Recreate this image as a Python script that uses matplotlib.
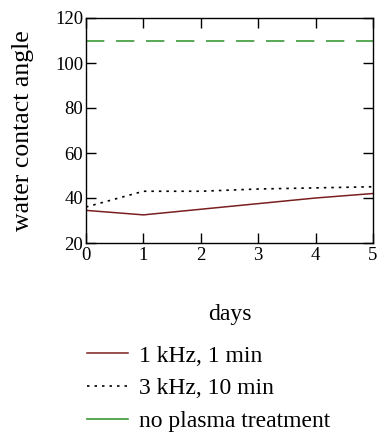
import matplotlib
matplotlib.use('Agg')
import matplotlib.pyplot as plt
from matplotlib.lines import Line2D

# data
days = [0, 1, 2, 3, 4, 5]
khz1_1min = [34.5, 32.5, 35, 37.5, 40, 42]
khz3_10min = [36, 43, 43, 44, 44.5, 45]
no_plasma = [110, 110, 110, 110, 110, 110]
labels = ['1 kHz, 1 min', '3 kHz, 10 min', 'no plasma treatment']

plt.rcParams['font.family'] = ['Liberation Serif', 'DejaVu Serif']

fig = plt.figure(figsize=(3.79, 4.33), dpi=100)
ax = fig.add_axes([86 / 379, 1 - 243 / 433, 287 / 379, 225 / 433])

red = '#7a1f1f'
green = '#3a9a3a'
ax.plot(days, khz1_1min, color=red, lw=1.1)
ax.plot(days, khz3_10min, color='black', lw=1.2, ls=(0, (1.5, 3)))
ax.plot(days, no_plasma, color=green, lw=1.2, ls=(0, (11, 7)))

ax.set_xlim(0, 5)
ax.set_ylim(20, 120)
ax.set_xticks(range(6))
ax.set_yticks(range(20, 121, 20))
ax.tick_params(direction='in', top=True, right=True, length=7, width=1,
               labelsize=13.5, pad=2)
ax.tick_params(axis='x', pad=3)
for s in ax.spines.values():
    s.set_linewidth(1)
ax.set_ylabel('water contact angle', fontsize=18.5, labelpad=15)
ax.set_xlabel('days', fontsize=17, labelpad=29)

handles = [Line2D([], [], color=red, lw=1.1),
           Line2D([], [], color='black', lw=1.2, ls=(0, (1.5, 3))),
           Line2D([], [], color=green, lw=1.2)]
fig.legend(handles, labels, loc='upper left', bbox_to_anchor=(87 / 379, 1 - 345 / 433),
           frameon=False, fontsize=17, handlelength=1.75, handletextpad=0.45,
           labelspacing=0.48, borderpad=0, borderaxespad=0)

fig.savefig('out.png', dpi=100)
